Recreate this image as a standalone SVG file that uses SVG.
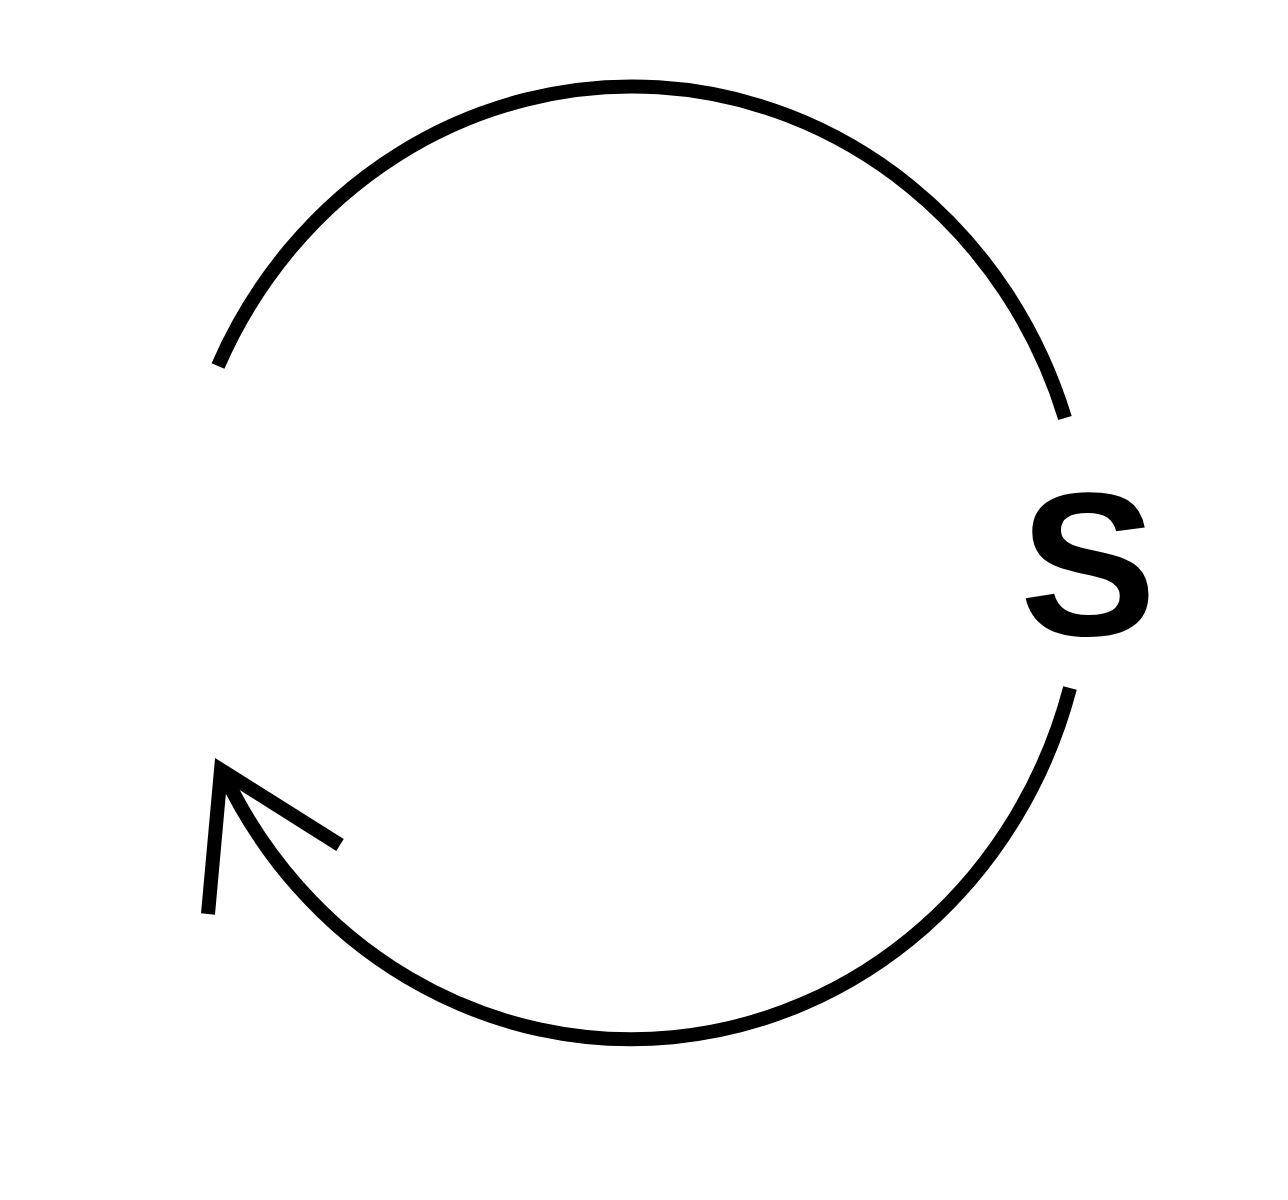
<svg xmlns="http://www.w3.org/2000/svg" width="1288" height="1200" viewBox="0 0 1288 1200">
<style>
.arc{fill:none;stroke:#000;stroke-width:14}
.lbl{font-family:"Liberation Sans",Arial,sans-serif;font-weight:bold;font-size:205px;fill:#000}
</style>
<rect width="1288" height="1200" fill="#fff"/>
<g id="connectors">
<path class="arc" d="M218 366 A455 478 0 0 1 1065 418"/>
<path class="arc" d="M1070 688 A455 478 0 0 1 222 770"/>
<path class="arc" d="M208 914 L221 770 L340 845" stroke-linejoin="miter"/>
</g>
<g id="node-S">
<text class="lbl" x="1088" y="635" text-anchor="middle">S</text>
</g>
</svg>
